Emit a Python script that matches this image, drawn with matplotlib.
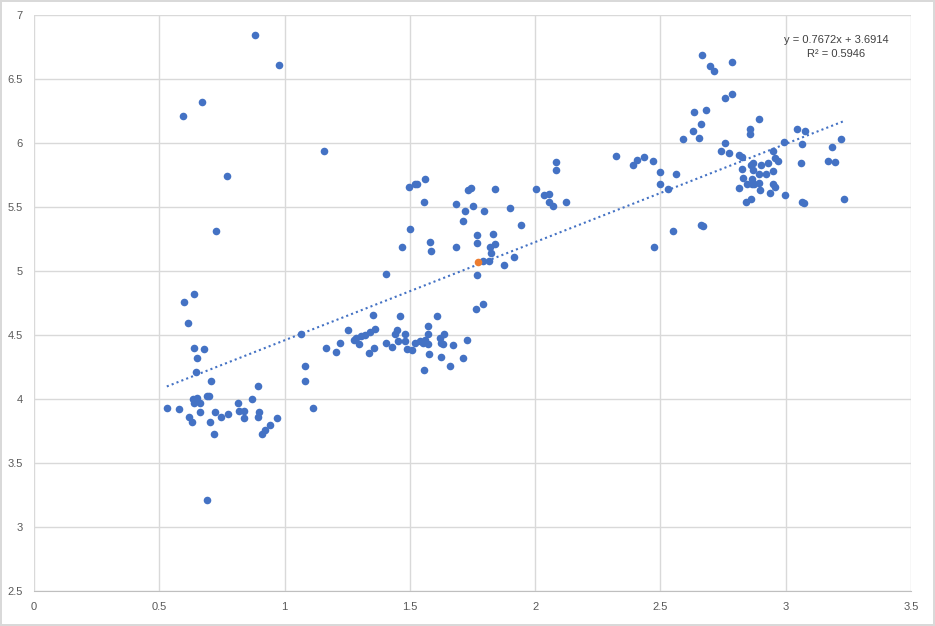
import numpy as np
import matplotlib
matplotlib.use("Agg")
import matplotlib.pyplot as plt

# data
x = [0.53, 0.58, 0.596, 0.600, 0.616, 0.640, 0.640, 0.648, 0.652, 0.680, 0.708,
     0.636, 0.652, 0.640, 0.664, 0.692, 0.700, 0.620, 0.632, 0.664, 0.721, 0.704,
     0.720, 0.748, 0.775, 0.816, 0.820, 0.840, 0.840, 0.872, 0.892, 0.896, 0.892,
     0.911, 0.923, 0.943, 0.971, 0.692, 0.672, 0.771, 0.726, 0.883, 0.979, 1.159,
     1.067, 1.083, 1.083, 1.115, 1.166, 1.206, 1.222, 1.253,
     1.498, 1.520, 1.530, 1.561, 1.557, 1.502, 1.470, 1.581, 1.585, 1.406,
     1.685, 1.721, 1.713, 1.753, 1.733, 1.745, 1.685, 1.769, 1.769, 1.769, 1.765,
     1.354, 1.462, 1.609, 1.362, 1.342, 1.322, 1.306, 1.286, 1.278, 1.298,
     1.358, 1.338, 1.406, 1.430, 1.454, 1.450, 1.442, 1.482, 1.482, 1.490, 1.510,
     1.522, 1.542, 1.554, 1.561, 1.573, 1.573, 1.573, 1.577, 1.557, 1.621, 1.625,
     1.637, 1.633, 1.673, 1.625, 1.661, 1.713, 1.729,
     1.841, 1.797, 1.833, 1.841, 1.821, 1.825, 1.793, 1.817, 1.877, 1.917, 1.901,
     1.945, 1.793, 2.004, 2.036, 2.056, 2.056, 2.072, 2.084, 2.084, 2.124,
     2.323, 2.391, 2.407, 2.435, 2.471, 2.475, 2.499, 2.563, 2.499, 2.531, 2.551,
     2.662, 2.670,
     2.667, 2.699, 2.715, 2.787, 2.759, 2.787, 2.635, 2.683, 2.663, 2.631, 2.655,
     2.591, 2.894, 2.858, 2.858, 2.759, 2.743, 2.775, 2.815, 2.827,
     2.827, 2.862, 2.870, 2.870, 2.902, 2.930, 2.950, 2.958, 2.970, 2.994, 2.831,
     2.847, 2.866, 2.866, 2.874, 2.894, 2.894, 2.922, 2.950, 2.815, 2.898, 2.938,
     2.950, 2.958, 2.998, 2.843, 2.862,
     3.046, 3.078, 3.066, 3.062, 3.066, 3.072, 3.170, 3.186, 3.198, 3.221, 3.233]
y = [3.93, 3.92, 6.21, 4.76, 4.59, 4.82, 4.40, 4.21, 4.32, 4.39, 4.14,
     4.00, 4.01, 3.97, 3.97, 4.02, 4.02, 3.86, 3.82, 3.90, 3.90, 3.82,
     3.73, 3.86, 3.88, 3.97, 3.91, 3.91, 3.85, 4.00, 4.10, 3.90, 3.86,
     3.73, 3.76, 3.80, 3.85, 3.21, 6.32, 5.74, 5.31, 6.84, 6.61, 5.94,
     4.51, 4.26, 4.14, 3.93, 4.40, 4.37, 4.44, 4.54,
     5.66, 5.68, 5.68, 5.72, 5.54, 5.33, 5.19, 5.23, 5.16, 4.98,
     5.52, 5.47, 5.39, 5.51, 5.63, 5.65, 5.19, 5.28, 5.22, 4.97, 4.70,
     4.66, 4.65, 4.65, 4.55, 4.52, 4.50, 4.49, 4.48, 4.46, 4.43,
     4.40, 4.36, 4.44, 4.41, 4.45, 4.54, 4.51, 4.51, 4.45, 4.39, 4.38,
     4.44, 4.45, 4.44, 4.46, 4.43, 4.51, 4.57, 4.35, 4.23, 4.48, 4.44,
     4.51, 4.43, 4.42, 4.33, 4.26, 4.32, 4.46,
     5.64, 5.47, 5.29, 5.21, 5.19, 5.14, 5.08, 5.08, 5.05, 5.11, 5.49,
     5.36, 4.74, 5.64, 5.59, 5.60, 5.54, 5.51, 5.85, 5.79, 5.54,
     5.90, 5.83, 5.87, 5.89, 5.86, 5.19, 5.77, 5.76, 5.68, 5.64, 5.31,
     5.36, 5.35,
     6.69, 6.60, 6.56, 6.63, 6.35, 6.38, 6.24, 6.26, 6.15, 6.09, 6.04,
     6.03, 6.19, 6.11, 6.07, 6.00, 5.94, 5.92, 5.91, 5.89,
     5.80, 5.83, 5.84, 5.79, 5.83, 5.84, 5.94, 5.88, 5.86, 6.01, 5.73,
     5.68, 5.72, 5.68, 5.68, 5.69, 5.76, 5.76, 5.78, 5.65, 5.63, 5.61,
     5.68, 5.66, 5.59, 5.54, 5.56,
     6.11, 6.09, 5.99, 5.84, 5.54, 5.53, 5.86, 5.97, 5.85, 6.03, 5.56]

# highlighted point (orange)
x_mark = [1.773]
y_mark = [5.07]

# linear trendline as printed on the chart
slope = 0.7672
intercept = 3.6914
r2 = 0.5946

x_ticks = [0, 0.5, 1, 1.5, 2, 2.5, 3, 3.5]
y_ticks = [2.5, 3, 3.5, 4, 4.5, 5, 5.5, 6, 6.5, 7]

fig = plt.figure(figsize=(9.35, 6.26), dpi=100)
fig.patch.set_edgecolor("#d9d9d9")
fig.patch.set_linewidth(1.5)
ax = fig.add_axes([34/935, 1 - 591/626, 877/935, 576/626])

ax.scatter(x, y, s=30, color="#4472C4", zorder=3, linewidths=0)
ax.scatter(x_mark, y_mark, s=30, color="#ED7D31", zorder=4, linewidths=0)

xl = np.array([min(x), max(x)])
ax.plot(xl, slope * xl + intercept, linestyle=(0, (1, 1.5)), color="#4472C4",
        linewidth=1.5, zorder=2)

ax.text(3.2, 6.75, "y = 0.7672x + 3.6914\nR² = 0.5946", ha="center", va="center",
        fontsize=8, color="#404040", linespacing=1.5, family="Liberation Sans")

ax.set_xlim(0, 3.5)
ax.set_ylim(2.5, 7)
ax.set_xticks(x_ticks)
ax.set_yticks(y_ticks)
ax.set_xticklabels([f"{t:g}" for t in x_ticks])
ax.set_yticklabels([f"{t:g}" for t in y_ticks])
ax.grid(True, color="#d9d9d9", linewidth=1)
ax.set_axisbelow(True)
for s in ["top", "right", "left"]:
    ax.spines[s].set_visible(False)
ax.spines["bottom"].set_color("#bfbfbf")
ax.tick_params(length=0, labelsize=8, labelcolor="#595959", pad=8)
for lab in ax.get_xticklabels() + ax.get_yticklabels():
    lab.set_family("Liberation Sans")

plt.savefig("out.png", dpi=100, edgecolor=fig.get_edgecolor())
